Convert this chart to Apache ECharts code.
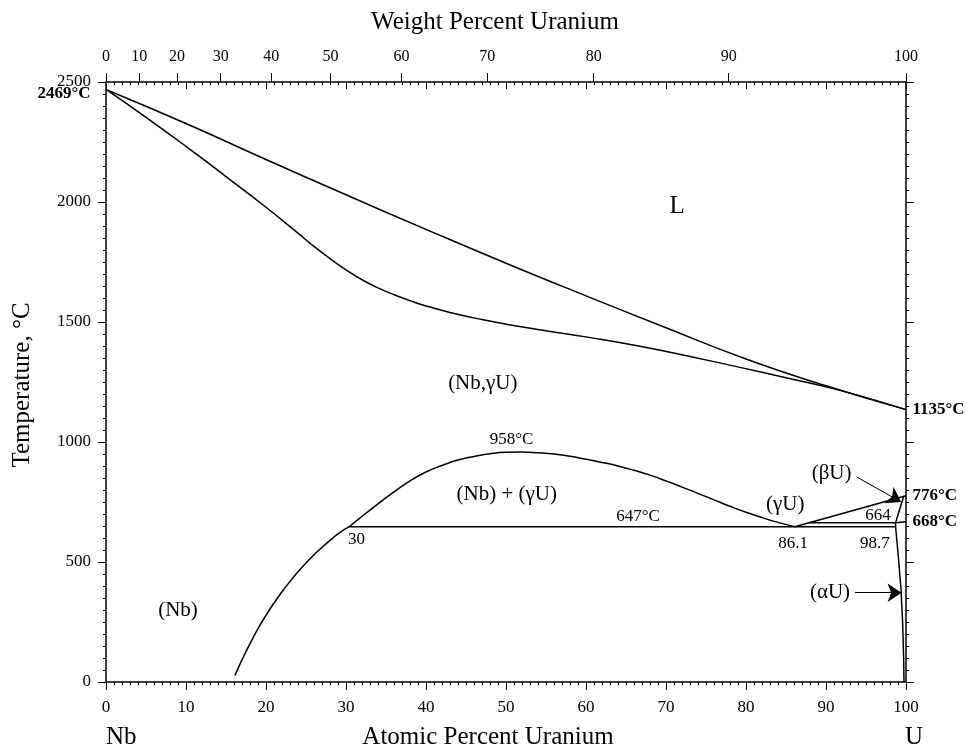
<!DOCTYPE html>
<html><head><meta charset="utf-8">
<script src="https://cdn.jsdelivr.net/npm/echarts@6/dist/echarts.min.js"></script>
<style>html,body{margin:0;padding:0;background:#fff}#c{width:967px;height:749px}</style>
</head><body><div id="c"></div>
<script>
// ---- data (atomic % U, temperature °C) ----
const liquidus = [[0,2469],[10,2327],[20,2177],[30,2030],[40,1886],[50,1745],[60,1609],[70,1476],[80,1346],[90,1234],[100,1135]];
const solidus = [[0,2469],[5,2353],[10,2232],[15,2106],[20,1978],[24,1870],[26,1815],[28,1764],[30,1717],[32,1676],[34,1642],[36,1614],[38,1589],[40,1567],[43,1540],[47,1510],[50,1491],[55,1464],[60,1438],[66.75,1399],[73,1356],[79.25,1311],[85,1268],[91.75,1215],[100,1135]];
const gapDome = [[30.4,647],[32,690],[34,742],[36,792],[38,838],[40,875],[42,902],[44,925],[46,940],[48,951],[50,957],[52,958],[54,955],[56,950],[58,941],[60,928],[62,915],[64,900],[66,882],[68,862],[70,838],[72,812],[74,786],[76,759],[78,732],[80,707],[82,685],[84,665],[86.1,647]];
const nbSolvus = [[16.1,27],[17,92],[18,160],[19,222],[20,278],[21,329],[22,376],[23,419],[24,459],[25,496],[26,530],[27,561],[28,590],[29,617],[30.4,647]];
const eutectoid647 = [[30.4,647],[98.7,647]];
const gammaBeta = [[86.1,647],[100,776]];
const line664 = [[87.9,664],[98.7,664]];
const betaLeft = [[98.7,664],[99.7,773]];
const betaAlpha = [[98.7,664],[100,668]];
const alphaSolvus = [[98.7,664],[98.7,647],[99.04,523],[99.38,385],[99.58,246],[99.7,107],[99.75,0]];

const weightTicks = [0,10,20,30,40,50,60,70,80,90,100];

const regionNames = ['(Nb,γU)','(Nb) + (γU)','(γU)','(βU)','(αU)','(Nb)'];
const regionAt    = [47.1, 50.1, 84.9, 90.7, 90.5, 9.0];
const regionT     = [1242, 780, 738, 870, 371, 297];

const liquidName = 'L';
const liquidPos = [71.4, 1982];

const smallNames = ['958°C','647°C','664','86.1','98.7','30'];
const smallAt    = [50.7, 66.5, 96.5, 85.9, 96.1, 31.3];
const smallT     = [1009, 690, 693, 579, 579, 595];

const rightBoldNames = ['1135°C','776°C','668°C'];
const rightBoldT     = [1135, 776, 668];
const leftBoldName = '2469°C';
const leftBoldT = 2469;

const arrowBeta  = [[93.8, 855], [99.4, 750]];
const arrowAlpha = [[93.6, 372], [99.45, 372]];

// ---- conversion of weight % ticks onto the atomic % scale ----
const M_U = 238.029, M_NB = 92.906;
function wtToAt(w) {
  if (w <= 0) return 0;
  if (w >= 100) return 100;
  const u = w / M_U, n = (100 - w) / M_NB;
  return 100 * u / (u + n);
}
const weightTickPos = weightTicks.map(wtToAt);

const FF = '"Liberation Serif", "Times New Roman", serif';
const BLACK = '#000';

function curve(data, smooth) {
  return {
    type: 'line', data: data, xAxisIndex: 0, yAxisIndex: 0,
    showSymbol: false, symbol: 'none', smooth: smooth ? 0.5 : false,
    lineStyle: { color: BLACK, width: 1.5 }, silent: true, z: 3,
    emphasis: { disabled: true }
  };
}

function textSeries(items) {
  return {
    type: 'scatter', xAxisIndex: 0, yAxisIndex: 0, symbol: 'circle', symbolSize: 1,
    itemStyle: { color: 'rgba(0,0,0,0)', opacity: 1 }, silent: true, z: 5, clip: false,
    emphasis: { disabled: true }, data: items
  };
}

function lbl(extra) {
  return Object.assign({ show: true, position: 'inside', formatter: '{b}', color: BLACK, fontFamily: FF, fontSize: 17, opacity: 1 }, extra);
}

const textItems = [];
regionNames.forEach((n, i) => textItems.push({ name: n, value: [regionAt[i], regionT[i]], label: lbl({ fontSize: 21 }) }));
textItems.push({ name: liquidName, value: liquidPos, label: lbl({ fontSize: 25 }) });
smallNames.forEach((n, i) => textItems.push({ name: n, value: [smallAt[i], smallT[i]], label: lbl({}) }));
rightBoldNames.forEach((n, i) => textItems.push({
  name: n, value: [100, rightBoldT[i]],
  label: lbl({ position: 'right', distance: 6, fontWeight: 'bold' })
}));
textItems.push({
  name: leftBoldName, value: [0, leftBoldT],
  label: lbl({ position: 'left', distance: 15, fontWeight: 'bold', offset: [0, 4] })
});

const axisLineStyle = { color: BLACK, width: 1.5 };
const tickStyle = { color: BLACK, width: 1 };
const plainNum = v => String(v);

const option = {
  animation: false,
  backgroundColor: '#fff',
  grid: { left: 106, top: 82, width: 800, height: 600, containLabel: false },
  xAxis: [
    {
      type: 'value', min: 0, max: 100, interval: 10, position: 'bottom',
      axisLine: { show: true, onZero: false, lineStyle: axisLineStyle },
      axisTick: { show: true, length: 8, lineStyle: tickStyle },
      minorTick: { show: true, splitNumber: 10, length: 3, lineStyle: tickStyle },
      axisLabel: { show: true, margin: 17, color: BLACK, fontFamily: FF, fontSize: 17, formatter: plainNum },
      splitLine: { show: false }, minorSplitLine: { show: false }
    },
    {
      type: 'value', min: 0, max: 100, interval: 10, position: 'top',
      axisLine: { show: true, onZero: false, lineStyle: axisLineStyle },
      axisTick: { show: true, inside: true, length: 7, lineStyle: tickStyle },
      minorTick: { show: true, splitNumber: 10, length: 3, lineStyle: tickStyle },
      axisLabel: { show: false },
      splitLine: { show: false }
    },
    {
      type: 'value', min: 0, max: 100, position: 'top',
      axisLine: { show: false, onZero: false },
      axisTick: { show: true, length: 9, customValues: weightTickPos, lineStyle: tickStyle },
      axisLabel: {
        show: true, margin: 17, color: BLACK, fontFamily: FF, fontSize: 16,
        customValues: weightTickPos,
        formatter: function (v) {
          const i = weightTickPos.findIndex(p => Math.abs(p - v) < 1e-6);
          return i >= 0 ? String(weightTicks[i]) : '';
        }
      },
      splitLine: { show: false }
    }
  ],
  yAxis: [
    {
      type: 'value', min: 0, max: 2500, interval: 500, position: 'left',
      axisLine: { show: true, onZero: false, lineStyle: axisLineStyle },
      axisTick: { show: true, length: 8, lineStyle: tickStyle },
      minorTick: { show: true, splitNumber: 10, length: 3, lineStyle: tickStyle },
      axisLabel: { show: true, margin: 15, color: BLACK, fontFamily: FF, fontSize: 17, formatter: plainNum },
      splitLine: { show: false }
    },
    {
      type: 'value', min: 0, max: 2500, interval: 500, position: 'right',
      axisLine: { show: true, onZero: false, lineStyle: axisLineStyle },
      axisTick: { show: true, length: 8, lineStyle: tickStyle },
      minorTick: { show: true, splitNumber: 10, length: 3, lineStyle: tickStyle },
      axisLabel: { show: false },
      splitLine: { show: false }
    }
  ],
  series: [
    curve(liquidus, true),
    curve(solidus, true),
    curve(gapDome, true),
    curve(nbSolvus, true),
    curve(eutectoid647, false),
    curve(gammaBeta, false),
    curve(line664, false),
    curve(betaLeft, false),
    curve(betaAlpha, false),
    curve(alphaSolvus, false),
    textSeries(textItems),
    {
      type: 'line', data: [], xAxisIndex: 0, yAxisIndex: 0, silent: true,
      markLine: {
        silent: true, animation: false, symbol: ['none', 'arrow'], symbolSize: 14,
        lineStyle: { color: BLACK, width: 1, type: 'solid' },
        label: { show: false }, emphasis: { disabled: true },
        data: [
          [{ coord: arrowBeta[0] }, { coord: arrowBeta[1] }],
          [{ coord: arrowAlpha[0] }, { coord: arrowAlpha[1] }]
        ]
      }
    }
  ],
  graphic: [
    { type: 'text', x: 495, y: 22, style: { text: 'Weight Percent Uranium', fill: BLACK, fontFamily: FF, fontSize: 25, align: 'center', verticalAlign: 'middle' } },
    { type: 'text', x: 488, y: 737, style: { text: 'Atomic Percent Uranium', fill: BLACK, fontFamily: FF, fontSize: 25, align: 'center', verticalAlign: 'middle' } },
    { type: 'text', x: 106, y: 737, style: { text: 'Nb', fill: BLACK, fontFamily: FF, fontSize: 25, align: 'left', verticalAlign: 'middle' } },
    { type: 'text', x: 914, y: 737, style: { text: 'U', fill: BLACK, fontFamily: FF, fontSize: 25, align: 'center', verticalAlign: 'middle' } },
    { type: 'text', x: 22, y: 385, rotation: Math.PI / 2, style: { text: 'Temperature, °C', fill: BLACK, fontFamily: FF, fontSize: 25, align: 'center', verticalAlign: 'middle' } }
  ]
};

const chart = echarts.init(document.getElementById('c'), null, { renderer: 'canvas' });
chart.setOption(option);
</script>
</body></html>
